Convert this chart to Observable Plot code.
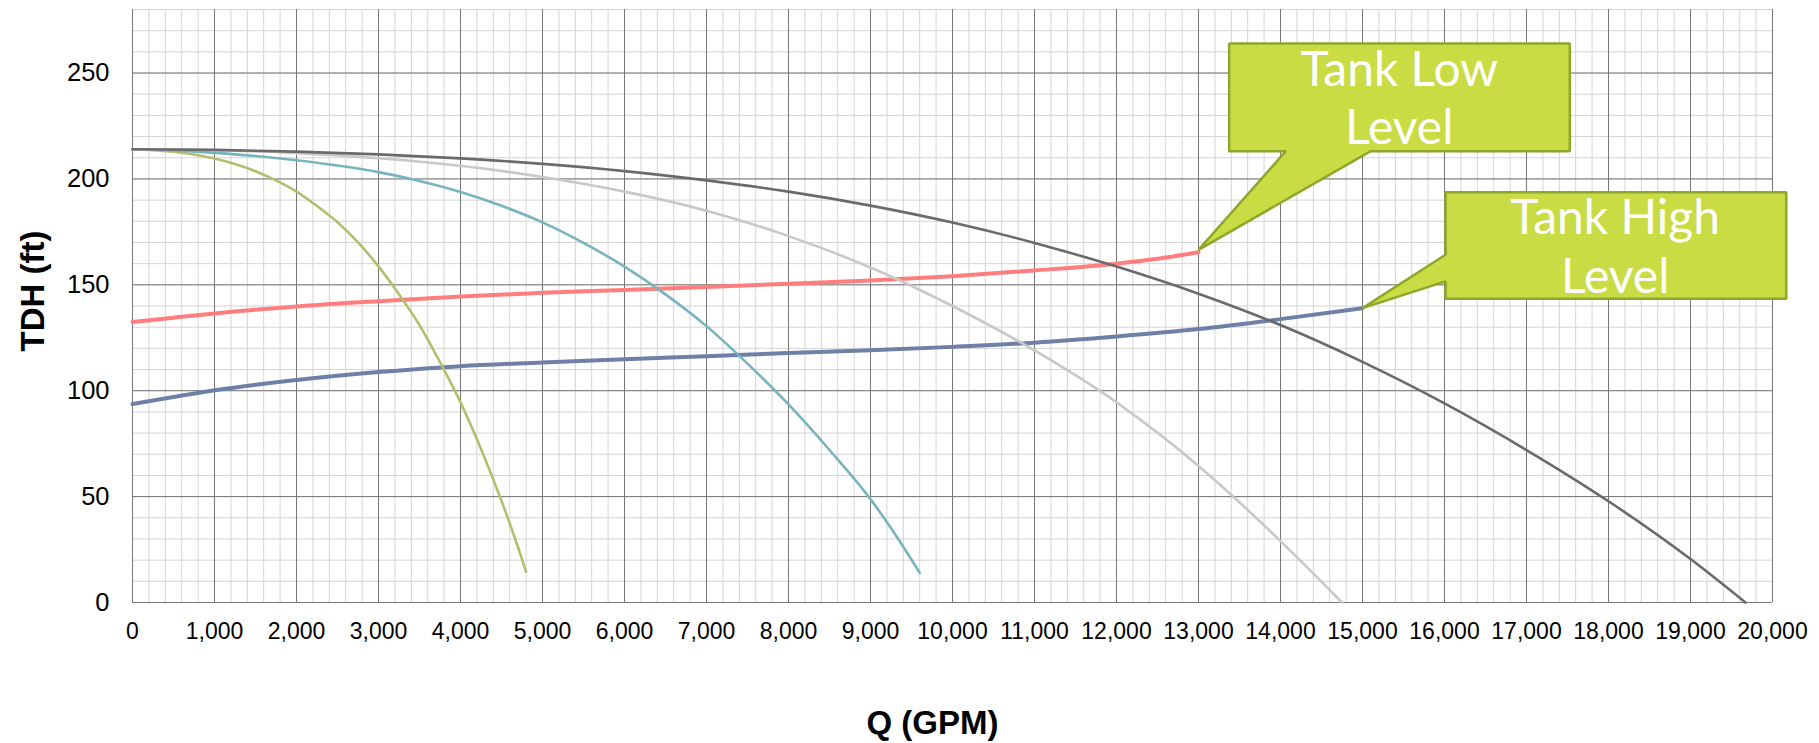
<!DOCTYPE html>
<html>
<head>
<meta charset="utf-8">
<script src="https://cdn.jsdelivr.net/npm/d3@7"></script>
<script src="https://cdn.jsdelivr.net/npm/@observablehq/plot@0.6"></script>
<style>
  html, body { margin: 0; padding: 0; background: #fff; }
  #chart svg { display: block; }
</style>
</head>
<body>
<div id="chart"></div>
<script>
// ---- Tick values ----
const xTicks = [0,1000,2000,3000,4000,5000,6000,7000,8000,9000,10000,11000,12000,13000,14000,15000,16000,17000,18000,19000,20000];
const yTicks = [0,50,100,150,200,250];
const xMinor = d3.range(0, 20001, 200);
const yMinor = d3.range(0, 281, 10);

// ---- Series: [Q (GPM), TDH (ft)] ----
const onePump = [[0,214],[250,213.6],[500,212.8],[750,211.5],[1000,209.6],[1250,207],[1500,203.6],[1750,199.3],[2000,194],[2250,187.2],[2500,179.5],[2750,170],[3000,158.7],[3250,145.5],[3500,131],[3750,113.5],[4000,94.5],[4250,72.5],[4500,48],[4750,20.5],[4800,14.5]];
const twoPumps = [[0,214],[500,213.5],[1000,212.3],[1500,210.8],[2000,208.8],[2500,206.3],[3000,203.2],[3500,199],[4000,193.8],[4500,187.3],[5000,179.5],[5500,169.8],[6000,158.6],[6500,145.5],[7000,130.5],[7500,112.8],[8000,93.5],[8500,72],[9000,48.8],[9300,32.2],[9600,14]];
const threePumps = [[0,214],[1000,213.6],[2000,212.2],[3000,209.8],[4000,206.2],[5000,200.9],[6000,194],[7000,185],[8000,173],[9000,158.2],[10000,140],[11000,119],[12000,94.5],[13000,64.5],[14000,29],[14750,0]];
const fourPumps = [[0,214],[1000,213.7],[2000,212.9],[3000,211.6],[4000,209.7],[5000,207.1],[6000,203.7],[7000,199.3],[8000,194],[9000,187.4],[10000,179.4],[11000,169.8],[12000,158.6],[13000,145.8],[14000,131],[15000,113.6],[16000,94],[17000,72],[18000,47.8],[19000,20.5],[19670,0]];
const tankLow = [[0,132.4],[500,134.5],[1000,136.5],[2000,139.8],[3000,142.3],[4000,144.5],[5000,146.2],[6000,147.6],[7000,149],[8000,150.5],[9000,152],[10000,154.1],[11000,156.8],[12000,160],[12500,162.3],[13000,165.4]];
const tankHigh = [[0,93.7],[500,97],[1000,100.2],[2000,105.1],[3000,108.8],[4000,111.6],[5000,113.3],[6000,114.9],[7000,116.3],[8000,117.8],[9000,119.1],[10000,120.7],[11000,122.7],[12000,125.6],[13000,129.1],[14000,133.8],[15000,139]];

const seriesNames = ["tankLow","tankHigh","onePump","twoPumps","threePumps","fourPumps"];
const seriesData = [tankLow, tankHigh, onePump, twoPumps, threePumps, fourPumps];
const seriesColors = ["#ff7d7d","#6e80a8","#b3be6e","#78b4be","#c8c8c8","#6a6a6a"];
const seriesWidths = [4, 4, 2.6, 2.6, 2.6, 2.6];

// ---- Callouts (data units) ----
const calloutLowOutline = [[13374,213.1],[14065,213.1],[13000,166.5],[15101,213.1],[17528,213.1],[17528,263.9],[13374,263.9],[13374,213.1]];
const calloutHighOutline = [[16013,143.4],[20168,143.4],[20168,193.7],[16013,193.7],[16013,164.2],[15000,139],[16013,151.6],[16013,143.4]];
const calloutLines = ["Tank Low","Level","Tank High","Level"];
const calloutLineX = [15448,15448,18082,18082];
const calloutLineY = [243.7,216.5,173.8,146.2];

const rows = seriesNames.flatMap((name, i) => seriesData[i].map(([q, h]) => ({name, q, h})));
const calloutRows = [
  ...calloutLowOutline.map(([q, h]) => ({id: "low", q, h})),
  ...calloutHighOutline.map(([q, h]) => ({id: "high", q, h}))
];
const calloutText = calloutLines.map((t, i) => ({t, q: calloutLineX[i], h: calloutLineY[i]}));

const lineMarks = seriesNames.map((name, i) =>
  Plot.line(rows.filter(d => d.name === name), {
    x: "q", y: "h", stroke: seriesColors[i], strokeWidth: seriesWidths[i], curve: "monotone-x"
  })
);

const chart = Plot.plot({
  width: 1819,
  height: 743,
  marginLeft: 132,
  marginRight: 47,
  marginTop: 9,
  marginBottom: 141,
  style: {fontFamily: "'Liberation Sans', Arial, sans-serif", color: "#000", background: "#fff"},
  x: {domain: [0, 20000]},
  y: {domain: [0, 280]},
  marks: [
    Plot.ruleX(xMinor, {stroke: "#d4d4d4", strokeWidth: 1}),
    Plot.ruleY(yMinor, {stroke: "#d4d4d4", strokeWidth: 1}),
    Plot.ruleX(xTicks, {stroke: "#767676", strokeWidth: 1}),
    Plot.ruleY(yTicks, {stroke: "#767676", strokeWidth: 1}),
    ...lineMarks,
    Plot.line(calloutRows, {x: "q", y: "h", z: "id", fill: "#c9dc44", stroke: "#8fa62b", strokeWidth: 2.5, strokeLinejoin: "miter", curve: "linear"}),
    Plot.text(calloutText, {x: "q", y: "h", text: "t", fill: "#fff", fontSize: 48, fontFamily: "Lato, 'Open Sans', sans-serif", textAnchor: "middle", lineAnchor: "bottom"}),
    Plot.axisX(xTicks, {tickSize: 0, tickPadding: 20, tickFormat: d3.format(","), fontSize: 23, label: null}),
    Plot.axisY(yTicks, {tickSize: 0, tickPadding: 23, fontSize: 25.5, label: null}),
    Plot.text(["Q (GPM)"], {text: d => d, frameAnchor: "bottom", dx: -20, dy: 131, lineAnchor: "bottom", textAnchor: "middle", fontSize: 33, fontWeight: "bold"}),
    Plot.text(["TDH (ft)"], {text: d => d, frameAnchor: "left", dx: -89, dy: -15, rotate: -90, lineAnchor: "bottom", textAnchor: "middle", fontSize: 33, fontWeight: "bold"})
  ]
});
document.getElementById("chart").append(chart);
</script>
</body>
</html>
